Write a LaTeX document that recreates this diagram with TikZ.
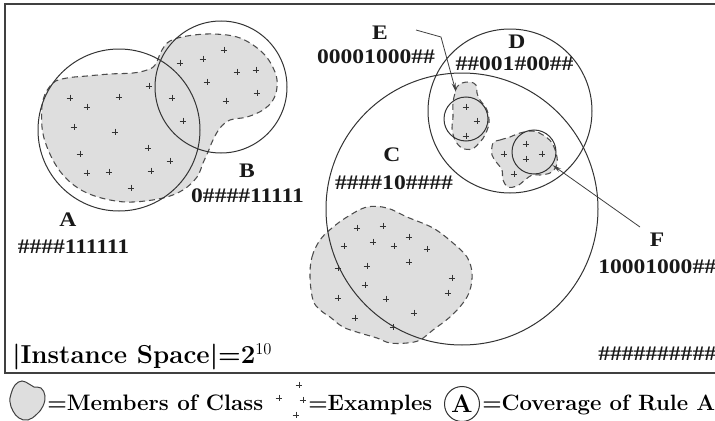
\documentclass[tikz,border=0pt]{standalone}
\usepackage{fontspec}
\usepackage{graphicx}
\usetikzlibrary{arrows.meta}
\newfontfamily\lblfont{Liberation Serif}
\newcommand{\wide}[1]{\scalebox{1.14}[1]{#1}}
\newcommand{\fitto}[2]{\resizebox{#1}{!}{#2}}
\tikzset{
  ring/.style={draw=black!80, line width=0.75pt, circle, inner sep=0pt},
  blobshape/.style={fill=black!13, draw=black!70, dash pattern=on 4.5pt off 3pt, line width=0.8pt},
  legblob/.style={fill=black!13, draw=black!75, line width=0.75pt},
  code/.style={font=\lblfont\bfseries\fontsize{15.5}{16}\selectfont, inner sep=0pt, text=black!90},
  bottomtxt/.style={font=\bfseries\fontsize{18.8}{20}\selectfont, inner sep=0pt},
  legtxt/.style={font=\bfseries\fontsize{16.5}{18}\selectfont, inner sep=0pt},
  frame/.style={draw=black!75, line width=1.2pt},
  pointer/.style={draw=black!75, line width=0.6pt, -{Stealth[length=7pt,width=3pt]}},
  pls/.pic={\draw[line width=0.45pt, black!80] (-3.3,0)--(3.3,0) (0,-3.3)--(0,3.3);}
}
\begin{document}
\begin{tikzpicture}[x=0.75pt, y=-0.75pt]
\useasboundingbox (0,0) rectangle (715,421);
\clip (0,0) rectangle (715,421);
\fill[white] (0,0) rectangle (715,421);
\draw[frame] (5,4) rectangle (760,373);

% class blobs
\draw[blobshape] plot[smooth cycle, tension=0.6] coordinates {
 (43,100) (53,83) (67,78) (87,76) (110,74) (133,73) (147,70) (155,65) (162,50) (170,41)
 (187,36) (213,34) (240,38) (263,53) (275,72) (277,87) (273,100) (263,110) (247,117)
 (230,120) (220,128) (213,140) (208,152) (203,163) (197,177) (183,190) (163,198) (133,202)
 (110,200) (87,193) (70,182) (57,167) (47,147) (42,127)};
\draw[blobshape] plot[smooth cycle, tension=0.6] coordinates {
 (457,87) (462,83) (470,82) (476,85) (477,93) (480,100) (487,110) (489,123) (485,135)
 (480,142) (472,149) (462,148) (455,140) (452,128) (453,117) (453,103) (455,93)};
\draw[blobshape] plot[smooth cycle, tension=0.6] coordinates {
 (493,143) (500,140) (510,137) (520,133) (533,131) (543,135) (552,143) (557,157) (556,167)
 (550,173) (540,175) (532,175) (525,180) (517,186) (508,187) (503,180) (502,170) (497,163) (492,155)};
\draw[blobshape] plot[smooth cycle, tension=0.6] coordinates {
 (310,277) (312,257) (320,240) (332,228) (347,217) (367,207) (387,208) (407,217) (433,228)
 (453,243) (467,257) (472,273) (470,290) (463,303) (450,317) (433,330) (420,340) (407,343)
 (390,343) (377,338) (360,333) (343,327) (330,317) (320,310) (313,300)};

% rule coverage circles
\node[ring, minimum size=121.5pt] (cA) at (119,130) {};
\node[ring, minimum size=99pt] (cB) at (221,87) {};
\node[ring, minimum size=204pt] (cC) at (462,209) {};
\node[ring, minimum size=123pt] (cD) at (510,111) {};
\node[ring, minimum size=33pt] (cE) at (466,119) {};
\node[ring, minimum size=33pt] (cF) at (534,152) {};

% examples
\foreach \x/\y in {224/50,180/63,203/59,237/72,256/70,207/82,257/93,226/101,172/98,183/121,
 149/86,70/98,87/107,119/97,74/127,115/132,148/148,80/154,170/161,87/173,109/172,151/171,131/188,
 466/107,477/121,466/136,
 504/154,526/144,542/154,526/159,514/174,
 357/228,383/226,409/237,344/246,373/242,394/246,427/249,338/268,367/266,409/262,452/278,
 365/285,448/293,338/298,386/299,414/313,355/318,393/327}
 \pic at (\x,\y) {pls};

% labels
\node[code] (lA) at (68,220) {\wide{A}};
\node[code] (kA) at (73.5,247) {\wide{\#\#\#\#111111}};
\node[code] (lB) at (247,171) {\wide{B}};
\node[code] (kB) at (247.5,196) {\wide{0\#\#\#\#11111}};
\node[code] (lE) at (380,33) {\wide{E}};
\node[code] (kE) at (376,57) {\wide{00001000\#\#}};
\node[code] (lD) at (517,42) {\wide{D}};
\node[code] (kD) at (514.5,64) {\wide{\#\#001\#00\#\#}};
\node[code] (lC) at (392,155) {\wide{C}};
\node[code] (kC) at (394,183) {\wide{\#\#\#\#10\#\#\#\#}};
\node[code] (lF) at (657,240) {\wide{F}};
\node[code, anchor=west] (kF) at (598,267) {\wide{10001000\#\#}};
\node[code, anchor=west] (kAll) at (598,354) {\wide{\#\#\#\#\#\#\#\#\#\#}};

% pointers
\coordinate (estart) at (416,30);
\coordinate (ebend) at (441,37);
\coordinate (etip) at (456,92);
\draw[pointer] (estart) -- (ebend) -- (etip);
\coordinate (fstart) at (640,227);
\draw[pointer] (fstart) -- (cF);

\node[bottomtxt, anchor=base west] (space) at (12,363) {\fitto{195pt}{|Instance Space|=2$^{10}$}};

% legend
\draw[legblob] plot[smooth cycle, tension=0.7] coordinates {
 (11,394) (15,385) (22,381) (29,384) (34,387) (41,388) (45,396) (43,406) (37,414) (28,420) (19,418) (13,411) (10,402)};
\node[legtxt, anchor=base west] (lg1) at (47,410) {\fitto{162pt}{=Members of Class}};
\pic at (279,398) {pls};
\pic at (299,385) {pls};
\pic at (303,400) {pls};
\pic at (296,415) {pls};
\node[legtxt, anchor=base west] (lg2) at (308,410) {\fitto{93pt}{=Examples}};
\node[ring, minimum size=26.25pt, font=\bfseries\fontsize{19}{20}\selectfont] (lgc) at (462,404) {A};
\node[legtxt, anchor=base west] (lg3) at (482,410) {\fitto{174.75pt}{=Coverage of Rule A}};
\end{tikzpicture}
\end{document}
